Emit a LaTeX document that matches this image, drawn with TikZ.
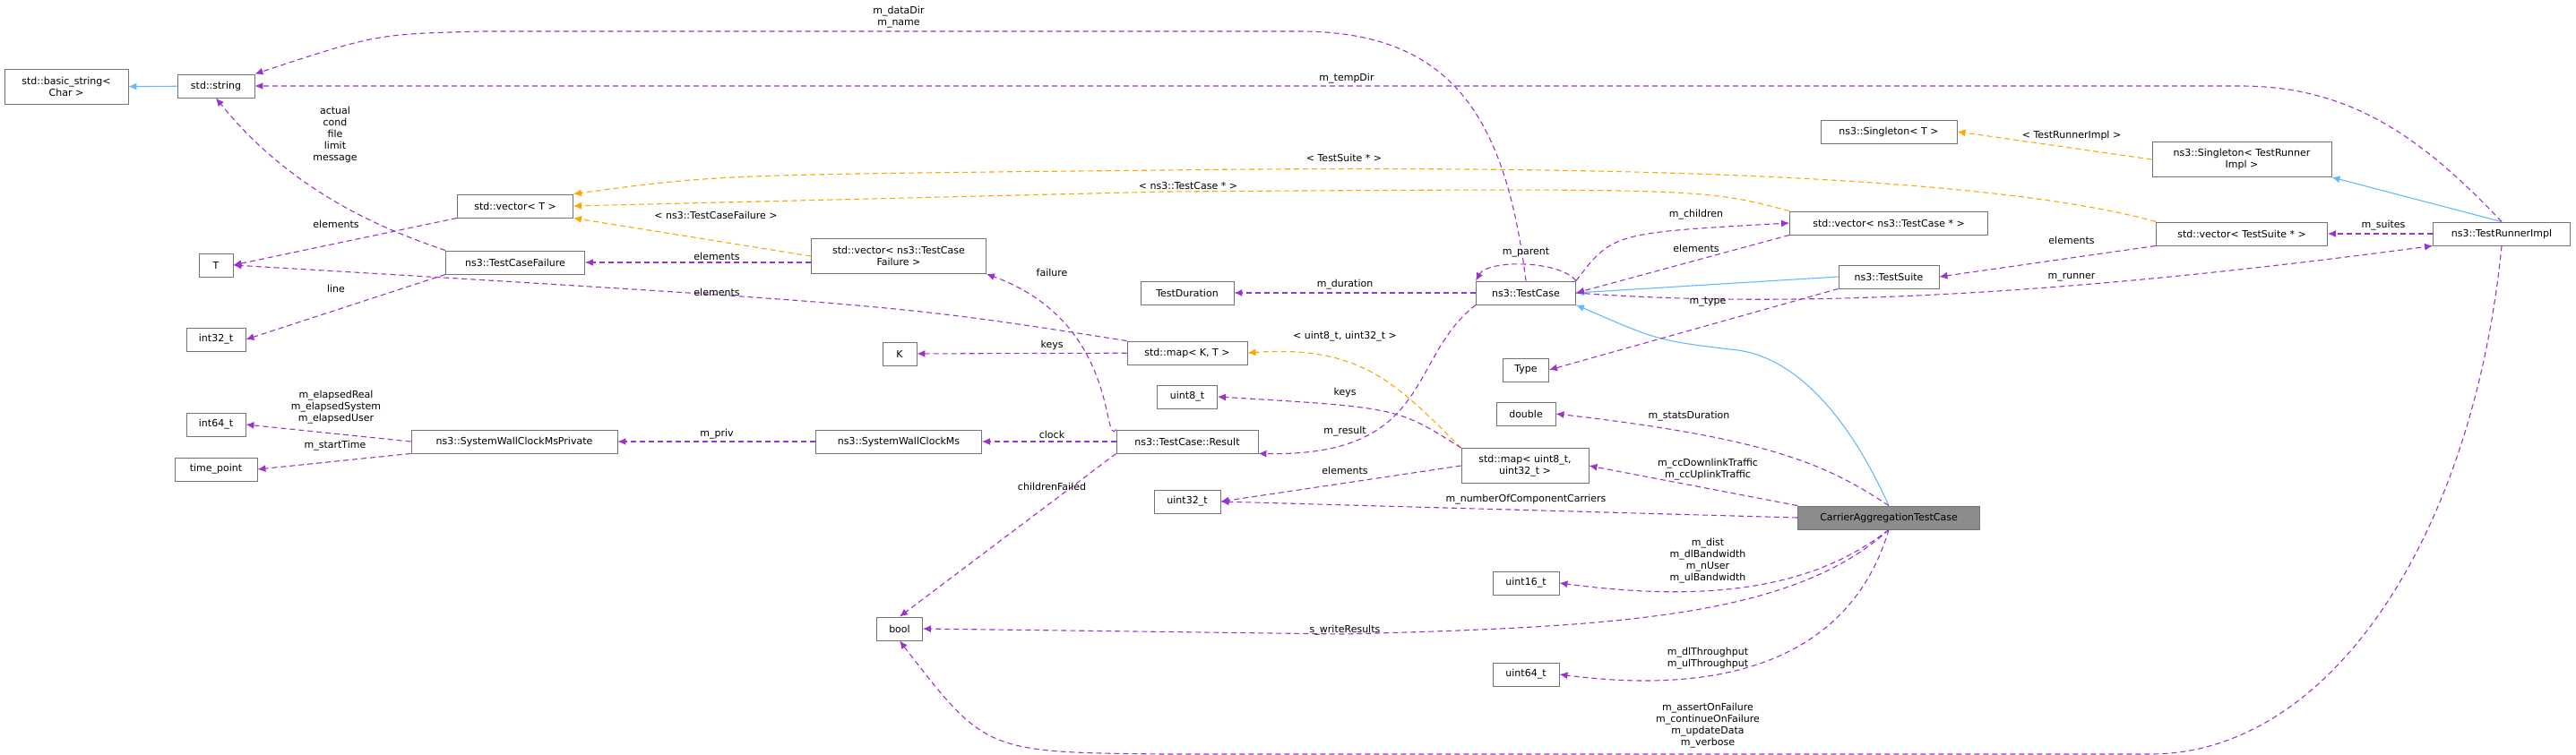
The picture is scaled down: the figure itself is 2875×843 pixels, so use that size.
\documentclass[tikz,border=0pt]{standalone}
\usepackage{fontspec}
\setmainfont{DejaVu Sans}
\usetikzlibrary{arrows.meta}
\definecolor{memc}{HTML}{9A32CD}
\definecolor{tplc}{HTML}{FFA500}
\definecolor{inhc}{HTML}{63B8FF}
\begin{document}
\begin{tikzpicture}[x=1pt,y=-1pt,line width=1.1pt,
  cls/.style={draw=black!55,line width=0.9pt,fill=white,font=\fontsize{11}{13}\selectfont,minimum height=26,inner sep=2,align=center},
  clsM/.style={cls,fill=black!45},
  mem/.style={memc,dash pattern=on 6pt off 4pt,-{Latex[length=9,width=8]}},
  tpl/.style={tplc,dash pattern=on 6pt off 4pt,-{Latex[length=9,width=8]}},
  inh/.style={inhc,-{Latex[length=9,width=8]}},
  lbl/.style={font=\fontsize{11}{13}\selectfont,align=center,inner sep=1}]
\useasboundingbox (0,0) rectangle (2875,843);

% left column
\node[cls,minimum width=138,minimum height=39] (BS) at (74,97) {std::basic\_string<\\Char >};
\node[cls,minimum width=86] (Str) at (241,96) {std::string};
\node[cls,minimum width=38] (T) at (241,296) {T};
\node[cls,minimum width=66] (I32) at (241,379) {int32\_t};
\node[cls,minimum width=66] (I64) at (241,474) {int64\_t};
\node[cls,minimum width=92] (TP) at (241,524) {time\_point};

\node[cls,minimum width=129] (VecT) at (575,230) {std::vector< T >};
\node[cls,minimum width=155] (TCF) at (575,293) {ns3::TestCaseFailure};
\node[cls,minimum width=230] (SWP) at (574,493) {ns3::SystemWallClockMsPrivate};

\node[cls,minimum width=195,minimum height=39] (VecTCF) at (1003,286) {std::vector< ns3::TestCase\\Failure >};
\node[cls,minimum width=38] (K) at (1004,395) {K};
\node[cls,minimum width=185] (SW) at (1003,493) {ns3::SystemWallClockMs};
\node[cls,minimum width=51] (Bool) at (1004,702) {bool};

\node[cls,minimum width=104] (TD) at (1325,327) {TestDuration};
\node[cls,minimum width=134] (MapKT) at (1325,394) {std::map< K, T >};
\node[cls,minimum width=67] (U8) at (1325,443) {uint8\_t};
\node[cls,minimum width=158] (Res) at (1325,493) {ns3::TestCase::Result};
\node[cls,minimum width=74] (U32) at (1325,560) {uint32\_t};

\node[cls,minimum width=111] (TC) at (1703,327) {ns3::TestCase};
\node[cls,minimum width=51] (Type) at (1703,413) {Type};
\node[cls,minimum width=66] (Dbl) at (1703,462) {double};
\node[cls,minimum width=142,minimum height=39] (MapU) at (1702,520) {std::map< uint8\_t,\\uint32\_t >};
\node[cls,minimum width=74] (U16) at (1703,651) {uint16\_t};
\node[cls,minimum width=74] (U64) at (1703,753) {uint64\_t};

\node[cls,minimum width=152] (SglT) at (2108,147) {ns3::Singleton< T >};
\node[cls,minimum width=221] (VecTC) at (2108,249) {std::vector< ns3::TestCase * >};
\node[cls,minimum width=112] (TS) at (2108,309) {ns3::TestSuite};
\node[clsM,minimum width=203] (CATC) at (2108,578) {CarrierAggregationTestCase};

\node[cls,minimum width=200,minimum height=39] (SglR) at (2502,178) {ns3::Singleton< TestRunner\\Impl >};
\node[cls,minimum width=191] (VecTS) at (2502,261) {std::vector< TestSuite * >};
\node[cls,minimum width=153] (TRI) at (2792,261) {ns3::TestRunnerImpl};

% inheritance
\draw[inh] (Str) -- (BS);
\draw[inh] (TS.west) -- (TC.east);
\draw[inh] (CATC.north) .. controls (2070,480) and (2010,395) .. (1930,390) .. controls (1850,380) .. (TC.south east);
\draw[inh] (TRI.north) -- (SglR.south east);

% template instances
\draw[tpl] (VecTS.north west) .. controls (2200,190) and (1700,185) .. (1300,190) .. controls (800,195) .. (VecT.north east);
\draw[tpl] (VecTC.north west) .. controls (1900,210) .. (1300,214) -- (VecT.east);
\draw[tpl] (VecTCF.west) -- (VecT.south east);
\draw[tpl] (MapU.north west) .. controls (1560,430) and (1520,385) .. (MapKT.east);
\draw[tpl] (SglR.west) -- (SglT.east);
\node[lbl] at (1500,176) {< TestSuite * >};
\node[lbl] at (1326,207) {< ns3::TestCase * >};
\node[lbl] at (799,240) {< ns3::TestCaseFailure >};
\node[lbl] at (1501,376) {< uint8\_t, uint32\_t >};
\node[lbl] at (2312,151) {< TestRunnerImpl >};

% members
\draw[mem] (TC.north) .. controls (1680,130) and (1620,35) .. (1450,35) -- (540,35) .. controls (420,38) .. (Str.north east);
\node[lbl] at (1003,19) {m\_dataDir\\m\_name};
\draw[mem] (TRI.north) .. controls (2700,150) and (2620,96) .. (2500,96) -- (Str.east);
\node[lbl] at (1503,88) {m\_tempDir};
\draw[mem] (TCF.north west) .. controls (440,260) and (330,220) .. (Str.south);
\node[lbl] at (374,150) {actual\\cond\\file\\limit\\message};
\draw[mem] (VecT.south west) -- (T.east);
\node[lbl] at (375,250) {elements};
\draw[mem] (MapKT.north west) .. controls (1000,340) .. (T.east);
\node[lbl] at (800,326) {elements};
\draw[mem] (VecTCF.west |- TCF.east) -- (TCF.east);
\node[lbl] at (800,286) {elements};
\draw[mem] (TCF.south west) -- (I32.east);
\node[lbl] at (375,322) {line};
\draw[mem] (SWP.west) -- (I64.east);
\node[lbl] at (375,455) {m\_elapsedReal\\m\_elapsedSystem\\m\_elapsedUser};
\draw[mem] (SWP.south west) -- (TP.east);
\node[lbl] at (374,498) {m\_startTime};
\draw[mem] (SW) -- (SWP);
\node[lbl] at (800,485) {m\_priv};
\draw[mem] (Res.north west) .. controls (1230,500) and (1250,360) .. (VecTCF.south east);
\node[lbl] at (1174,304) {failure};
\draw[mem] (Res) -- (SW);
\node[lbl] at (1174,485) {clock};
\draw[mem] (Res.south west) -- (Bool.north);
\node[lbl] at (1174,543) {childrenFailed};
\draw[mem] (MapKT) -- (K);
\node[lbl] at (1174,385) {keys};
\draw[mem] (TC) -- (TD);
\node[lbl] at (1501,318) {m\_duration};
\draw[mem] (TC.south west) .. controls (1570,400) and (1600,510) .. (Res.south east);
\node[lbl] at (1501,482) {m\_result};
\draw[mem] (TC.north east) .. controls (1740,290) and (1660,290) .. (TC.north west);
\node[lbl] at (1703,282) {m\_parent};
\draw[mem] (TC.north east) .. controls (1800,260) .. (VecTC.west);
\node[lbl] at (1893,240) {m\_children};
\draw[mem] (VecTC.south west) -- (TC.east);
\node[lbl] at (1893,277) {elements};
\draw[mem] (TC.east) .. controls (2000,345) and (2300,330) .. (TRI.south west);
\node[lbl] at (2312,310) {m\_runner};
\draw[mem] (TS.south west) -- (Type.east);
\node[lbl] at (1906,337) {m\_type};
\draw[mem] (VecTS.south west) -- (TS.east);
\node[lbl] at (2312,268) {elements};
\draw[mem] (TRI) -- (VecTS);
\node[lbl] at (2660,252) {m\_suites};
\draw[mem] (CATC.north) .. controls (2040,520) and (1980,490) .. (Dbl.east);
\node[lbl] at (1885,465) {m\_statsDuration};
\draw[mem] (CATC.north west) -- (MapU.east);
\node[lbl] at (1906,524) {m\_ccDownlinkTraffic\\m\_ccUplinkTraffic};
\draw[mem] (CATC.west) -- (U32.east);
\node[lbl] at (1703,558) {m\_numberOfComponentCarriers};
\draw[mem] (MapU.north west) .. controls (1560,455) .. (U8.east);
\node[lbl] at (1501,438) {keys};
\draw[mem] (MapU.west) -- (U32.east);
\node[lbl] at (1501,525) {elements};
\draw[mem] (CATC.south) .. controls (2020,660) and (1900,672) .. (U16.east);
\node[lbl] at (1906,626) {m\_dist\\m\_dlBandwidth\\m\_nUser\\m\_ulBandwidth};
\draw[mem] (CATC.south) .. controls (2000,690) and (1800,700) .. (1500,708) -- (Bool.east);
\node[lbl] at (1501,704) {s\_writeResults};
\draw[mem] (CATC.south) .. controls (2070,720) and (1950,780) .. (U64.east);
\node[lbl] at (1906,735) {m\_dlThroughput\\m\_ulThroughput};
\draw[mem] (TRI.south) .. controls (2760,600) and (2600,842) .. (2400,842) -- (1300,842) .. controls (1100,840) .. (Bool.south);
\node[lbl] at (1906,810) {m\_assertOnFailure\\m\_continueOnFailure\\m\_updateData\\m\_verbose};
\end{tikzpicture}
\end{document}
